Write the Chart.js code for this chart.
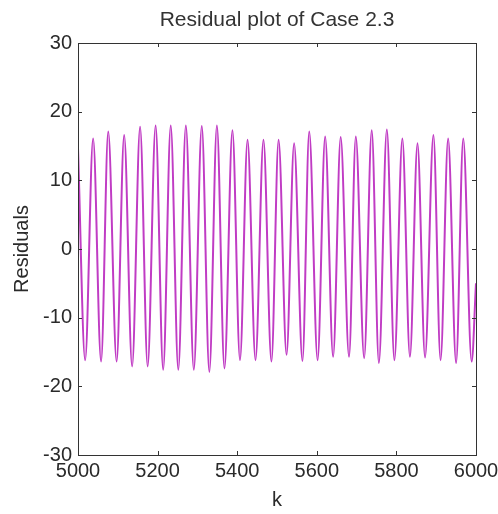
<!DOCTYPE html>
<html>
<head>
<meta charset="utf-8">
<script src="https://cdn.jsdelivr.net/npm/chart.js@4/dist/chart.umd.min.js"></script>
<style>
  html, body { margin: 0; padding: 0; background: #fff; }
  #wrap { width: 498px; height: 514px; }
</style>
</head>
<body>
<div id="wrap"><canvas id="residualChart"></canvas></div>
<script>
// values: peaks and troughs of the residual trace
const kValues = [
  5000, 5018, 5038, 5058, 5076, 5097, 5116, 5136, 5156, 5175,
  5195, 5214, 5233, 5252, 5271, 5291, 5311, 5330, 5349, 5368,
  5388, 5407, 5426, 5446, 5466, 5486, 5504, 5524, 5543, 5564,
  5581, 5602, 5621, 5641, 5660, 5681, 5698, 5719, 5738, 5756,
  5776, 5795, 5815, 5834, 5853, 5872, 5893, 5911, 5930, 5950,
  5968, 5989, 6000
];
const residuals = [
  14.7, -16.2, 16.1, -16.4, 17.1, -16.4, 16.6, -17.1, 17.8, -17.1,
  18.0, -17.6, 18.0, -17.6, 18.0, -17.6, 17.9, -17.9, 18.0, -17.4,
  17.3, -16.2, 15.9, -16.2, 15.9, -16.4, 15.9, -15.4, 15.4, -16.3,
  17.1, -16.2, 16.4, -15.7, 16.3, -15.7, 16.4, -15.9, 17.3, -16.6,
  17.4, -16.2, 16.1, -15.7, 15.4, -15.8, 16.6, -16.2, 16.1, -16.6,
  16.1, -16.4, -5.0
];
const xTicks = [5000, 5200, 5400, 5600, 5800, 6000];
const yTicks = [-30, -20, -10, 0, 10, 20, 30];
const chartTitle = "Residual plot of Case 2.3";
const xLabel = "k";
const yLabel = "Residuals";

const fontFamily = "'Liberation Sans', Arial, sans-serif";
const textColor = "#2a2a2a";

// box around the axes, ticks pointing inwards (MATLAB style), title over the axes
const matlabAxes = {
  id: "matlabAxes",
  afterDraw(chart) {
    const ctx = chart.ctx;
    const a = chart.chartArea;
    const xs = chart.scales.x, ys = chart.scales.y;
    ctx.save();
    ctx.strokeStyle = "#333";
    ctx.lineWidth = 1;
    ctx.strokeRect(Math.round(a.left) + 0.5, Math.round(a.top) + 0.5,
      Math.round(a.right - a.left), Math.round(a.bottom - a.top));
    const len = 4;
    ctx.beginPath();
    xTicks.forEach(v => {
      const px = Math.round(xs.getPixelForValue(v)) + 0.5;
      ctx.moveTo(px, a.bottom); ctx.lineTo(px, a.bottom - len);
      ctx.moveTo(px, a.top); ctx.lineTo(px, a.top + len);
    });
    yTicks.forEach(v => {
      const py = Math.round(ys.getPixelForValue(v)) + 0.5;
      ctx.moveTo(a.left, py); ctx.lineTo(a.left + len, py);
      ctx.moveTo(a.right, py); ctx.lineTo(a.right - len, py);
    });
    ctx.stroke();

    ctx.fillStyle = "#333";
    ctx.font = "21px " + fontFamily;
    ctx.textAlign = "center";
    ctx.textBaseline = "middle";
    ctx.fillText(chartTitle, (a.left + a.right) / 2, 20);
    ctx.restore();
  }
};

new Chart(document.getElementById("residualChart"), {
  type: "line",
  data: {
    datasets: [{
      data: kValues.map((k, i) => ({ x: k, y: residuals[i] })),
      borderColor: "#c03cc4",
      borderWidth: 2,
      pointRadius: 0,
      fill: false,
      cubicInterpolationMode: "monotone"
    }]
  },
  options: {
    responsive: true,
    maintainAspectRatio: false,
    animation: false,
    layout: { padding: { left: 0, right: 22, top: 43, bottom: 0 } },
    plugins: {
      legend: { display: false },
      tooltip: { enabled: false }
    },
    scales: {
      x: {
        type: "linear",
        min: 5000,
        max: 6000,
        afterBuildTicks: s => { s.ticks = xTicks.map(v => ({ value: v })); },
        afterFit: s => { s.height = 59; s.paddingLeft = 0; s.paddingRight = 0; },
        grid: { display: false, drawTicks: false },
        border: { display: false },
        ticks: { color: textColor, padding: 4, maxRotation: 0, callback: v => String(v), font: { size: 20, family: fontFamily } },
        title: { display: true, text: xLabel, color: textColor, padding: { top: 0, bottom: 2 }, font: { size: 20, family: fontFamily } }
      },
      y: {
        min: -30,
        max: 30,
        afterBuildTicks: s => { s.ticks = yTicks.map(v => ({ value: v })); },
        afterFit: s => { s.width = 78; s.paddingTop = 0; s.paddingBottom = 0; },
        grid: { display: false, drawTicks: false },
        border: { display: false },
        ticks: { color: textColor, padding: 6, callback: v => String(v), font: { size: 20, family: fontFamily } },
        title: { display: true, text: yLabel, color: textColor, padding: { top: 10, bottom: 0 }, font: { size: 20, family: fontFamily } }
      }
    }
  },
  plugins: [matlabAxes]
});
</script>
</body>
</html>
